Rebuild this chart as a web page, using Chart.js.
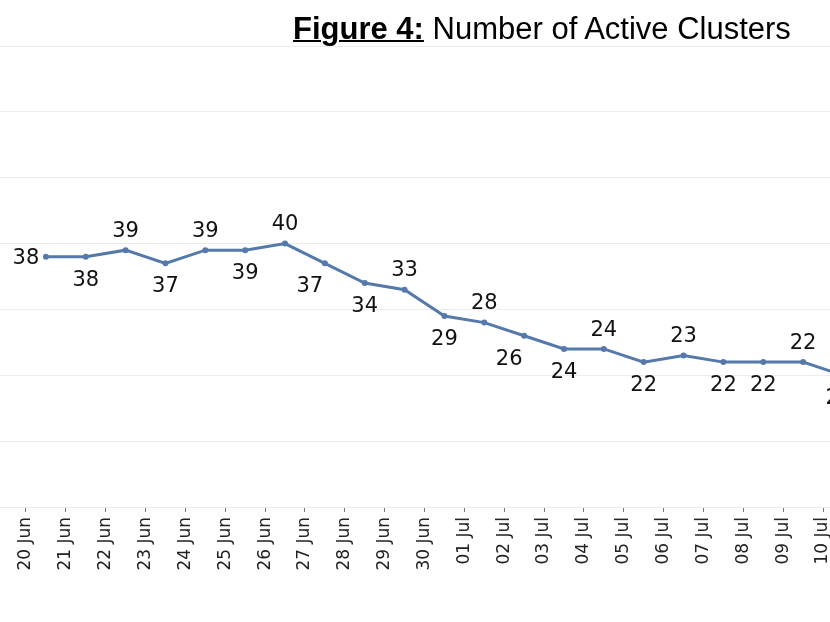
<!DOCTYPE html>
<html><head><meta charset="utf-8">
<script src="https://cdn.jsdelivr.net/npm/chart.js@4.4.0/dist/chart.umd.min.js"></script>
<style>
html,body{margin:0;padding:0;background:#fff;overflow:hidden;}
#wrap{position:relative;width:830px;height:622px;}
canvas{position:absolute;left:0;top:0;}
#title{position:absolute;left:293px;top:12px;font-family:"Liberation Sans",Arial,sans-serif;font-size:31px;line-height:34px;color:#000;white-space:nowrap;}
#title b{text-decoration:underline;text-decoration-thickness:2px;}
</style></head><body>
<div id="wrap">
<canvas id="c" width="830" height="622"></canvas>
<div id="title"><b>Figure 4:</b> Number of Active Clusters</div>
</div>
<script>
const dates = ["20 Jun","21 Jun","22 Jun","23 Jun","24 Jun","25 Jun","26 Jun","27 Jun","28 Jun","29 Jun","30 Jun","01 Jul","02 Jul","03 Jul","04 Jul","05 Jul","06 Jul","07 Jul","08 Jul","09 Jul","10 Jul"];
const clusters = [38,38,39,37,39,39,40,37,34,33,29,28,26,24,24,22,23,22,22,22,20];
const yTicks = [0,10,20,30,40,50,60,70];
const labelPlacement = ["left","below","above","below","above","below","above","belowLeft","below","above","below","above","belowLeft","below","above","below","above","below","below","above","belowEdge"];

const LINE_COLOR = '#5579ab';
const offsets = {above:[0,-21], below:[0,21.5], left:[-20,0], belowLeft:[-15,21.5], belowEdge:[-4,21.5]};
const LABEL_FS = 21;

const dataLabels = {
  id:'dataLabels',
  afterDatasetsDraw(chart){
    const ctx = chart.ctx;
    const meta = chart.getDatasetMeta(0);
    ctx.save();
    ctx.font = LABEL_FS + 'px "DejaVu Sans"';
    ctx.fillStyle = '#111';
    ctx.textAlign = 'center';
    ctx.textBaseline = 'alphabetic';
    meta.data.forEach((el,i)=>{
      const o = offsets[labelPlacement[i]];
      ctx.fillText(String(clusters[i]), el.x + o[0], el.y + o[1] + 0.3645*LABEL_FS);
    });
    ctx.restore();
  }
};

const points = clusters.map((v,i)=>({x:i+0.5, y:v}));

new Chart(document.getElementById('c'),{
  type:'line',
  data:{datasets:[{
    data:points,
    borderColor:LINE_COLOR,
    backgroundColor:LINE_COLOR,
    borderWidth:3,
    pointRadius:3,
    pointHoverRadius:3,
    pointBorderWidth:0,
    tension:0
  }]},
  options:{
    responsive:false,
    animation:false,
    layout:{autoPadding:false, padding:{top:46,left:0,right:0,bottom:0}},
    plugins:{legend:{display:false},tooltip:{enabled:false},title:{display:false}},
    scales:{
      x:{
        type:'linear',
        min:-0.652,
        max:20.175,
        afterBuildTicks(scale){ scale.ticks = dates.map((d,i)=>({value:i})); },
        afterFit(scale){ scale.paddingLeft = 0; scale.paddingRight = 0; scale.height = 115; },
        ticks:{
          autoSkip:false,
          minRotation:90,
          maxRotation:90,
          padding:5,
          color:'#222',
          font:{family:'DejaVu Sans', size:17},
          callback:(v,i)=>dates[i]
        },
        grid:{drawOnChartArea:false, drawTicks:true, tickLength:5, tickColor:'#777', tickWidth:1},
        border:{display:false}
      },
      y:{
        min:0,
        max:70,
        afterBuildTicks(scale){ scale.ticks = yTicks.map(v=>({value:v})); },
        afterFit(scale){ scale.width = 0; },
        ticks:{display:false},
        grid:{color:'#ececec', drawTicks:false, lineWidth:1},
        border:{display:false}
      }
    }
  },
  plugins:[dataLabels]
});
</script>
</body></html>
